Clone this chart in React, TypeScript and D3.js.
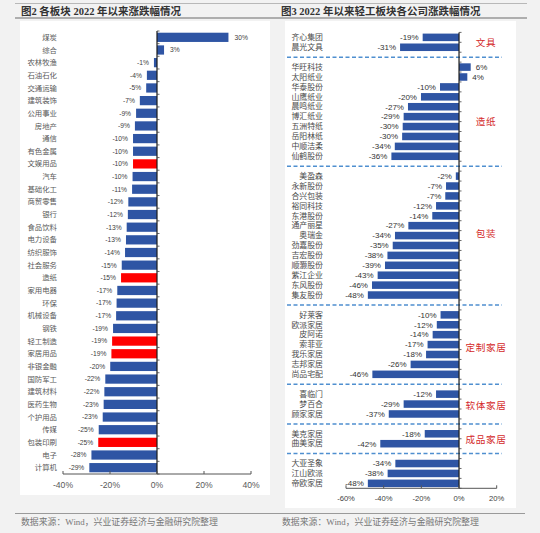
import React from "react";
import * as d3 from "d3";

const leftCategories = [
  "煤炭", "综合", "农林牧渔", "石油石化", "交通运输", "建筑装饰", "公用事业", "房地产",
  "通信", "有色金属", "文娱用品", "汽车", "基础化工", "商贸零售", "银行", "食品饮料",
  "电力设备", "纺织服饰", "社会服务", "造纸", "家用电器", "环保", "机械设备", "钢铁",
  "轻工制造", "家居用品", "非银金融", "国防军工", "建筑材料", "医药生物", "个护用品", "传媒",
  "包装印刷", "电子", "计算机",
];
const leftValues = [
  30.4, 3.0, -1.3, -4.3, -4.6, -7.3, -8.9, -9.4,
  -10.2, -10.2, -10.2, -10.4, -10.6, -12.2, -12.4, -12.9,
  -13.2, -13.6, -15.0, -15.3, -16.9, -17.2, -17.4, -18.7,
  -19.1, -19.4, -19.9, -22.0, -22.4, -22.7, -23.1, -24.8,
  -25.0, -27.9, -28.8,
];
const leftLabels = [
  "30%", "3%", "-1%", "-4%", "-5%", "-7%", "-9%", "-9%",
  "-10%", "-10%", "-10%", "-10%", "-11%", "-12%", "-12%", "-13%",
  "-13%", "-14%", "-15%", "-15%", "-17%", "-17%", "-17%", "-19%",
  "-19%", "-19%", "-20%", "-22%", "-22%", "-23%", "-23%", "-25%",
  "-25%", "-28%", "-29%",
];
const leftHighlighted = ["文娱用品", "造纸", "轻工制造", "家居用品", "包装印刷"];
const leftTicks = [-40, -20, 0, 20, 40];

const rightGroups = ["文具", "造纸", "包装", "定制家居", "软体家居", "成品家居", ""];
const rightCompanies = [
  ["齐心集团", "晨光文具"],
  ["华旺科技", "太阳纸业", "华泰股份", "山鹰纸业", "晨鸣纸业", "博汇纸业", "五洲特纸", "岳阳林纸", "中顺洁柔", "仙鹤股份"],
  ["美盈森", "永新股份", "合兴包装", "裕同科技", "东港股份", "通产丽星", "奥瑞金", "劲嘉股份", "吉宏股份", "顺灏股份", "紫江企业", "东风股份", "集友股份"],
  ["好莱客", "欧派家居", "皮阿诺", "索菲亚", "我乐家居", "志邦家居", "尚品宅配"],
  ["喜临门", "梦百合", "顾家家居"],
  ["美克家居", "曲美家居"],
  ["大亚圣象", "江山欧派", "帝欧家居"],
];
const rightValues = [
  [-19.3, -31.3],
  [6.2, 4.4, -10.1, -20.2, -27.1, -29.4, -29.9, -30.2, -34.1, -35.9],
  [-1.7, -6.9, -7.3, -12.2, -14.2, -26.9, -34.0, -35.2, -38.0, -39.3, -43.2, -46.2, -48.4],
  [-9.8, -11.8, -14.0, -16.7, -17.5, -25.7, -46.0],
  [-12.2, -29.4, -37.3],
  [-18.2, -41.8],
  [-33.8, -37.9, -48.4],
];
const rightLabels = [
  ["-19%", "-31%"],
  ["6%", "4%", "-10%", "-20%", "-27%", "-29%", "-30%", "-30%", "-34%", "-36%"],
  ["-2%", "-7%", "-7%", "-12%", "-14%", "-27%", "-34%", "-35%", "-38%", "-39%", "-43%", "-46%", "-48%"],
  ["-10%", "-12%", "-14%", "-17%", "-18%", "-26%", "-46%"],
  ["-12%", "-29%", "-37%"],
  ["-18%", "-42%"],
  ["-34%", "-38%", "-48%"],
];
const rightLabelRows = [0.5, 5.5, 5.8, 3.3, 1.2, 0.6, 1];
const rightTicks = [-60, -40, -20, 0, 20];

const BLUE = "#2f55a4";
const RED = "#ff0000";
const CJK = "'Noto Sans CJK SC', sans-serif";
const SERIF = "'Liberation Serif', 'Noto Sans CJK SC', serif";
const SANS = "'Liberation Sans', Arial, sans-serif";

function pct(v: number) {
  return `${v}%`;
}

export default function App() {
  const xL = d3.scaleLinear().domain([-40, 40]).range([63, 251]);
  const yL = d3.scaleBand<string>().domain(leftCategories).range([31, 474]).paddingInner(0.27).paddingOuter(0.135);

  type Slot = { key: string; name?: string; value?: number; label?: string; sep?: boolean };
  const slots: Slot[] = [];
  rightCompanies.forEach((names, gi) => {
    names.forEach((n, i) => slots.push({ key: n, name: n, value: rightValues[gi][i], label: rightLabels[gi][i] }));
    if (gi < rightCompanies.length - 1) slots.push({ key: `sep${gi}`, sep: true });
  });
  const xR = d3.scaleLinear().domain([-60, 20]).range([346, 496.7]);
  const yR = d3.scaleBand<string>().domain(slots.map((s) => s.key)).range([32.4, 488.3]).paddingInner(0.24).paddingOuter(0.12);

  const l0 = xL(0);
  const r0 = xR(0);
  const lTop = yL.range()[0];
  const lBot = yL.range()[1];
  const rTop = yR.range()[0];
  const rBot = yR.range()[1];

  const lBoundaries = leftCategories.map((_, i) => lTop + i * yL.step()).concat([lBot]);
  const rBoundaries = slots.map((_, i) => rTop + i * yR.step()).concat([rBot]);

  return (
    <svg width={540} height={533} style={{ position: "absolute", left: 0, top: 0 }} xmlns="http://www.w3.org/2000/svg">
      <rect x={0} y={0} width={540} height={533} fill="#f2f2f2" />
      <line x1={15} x2={527} y1={3.5} y2={3.5} stroke="#b8b8b8" strokeWidth={1} />
      <line x1={15} x2={527} y1={18} y2={18} stroke="#6a6a6a" strokeWidth={1} />
      <text x={21} y={15} fontFamily={SERIF} fontSize={10.5} fontWeight={600} fill="#333">
        图2 各板块 2022 年以来涨跌幅情况
      </text>
      <text x={281} y={15} fontFamily={SERIF} fontSize={10.5} fontWeight={600} fill="#333">
        图3 2022 年以来轻工板块各公司涨跌幅情况
      </text>
      <rect x={20} y={21} width={250} height={474} fill="#ffffff" />
      <rect x={285} y={21} width={231} height={487} fill="#ffffff" />

      {/* LEFT CHART */}
      <g>
        {leftCategories.map((c, i) => {
          const v = leftValues[i];
          const y = yL(c)!;
          const h = yL.bandwidth();
          const x0 = Math.min(xL(v), l0);
          const w = Math.abs(xL(v) - l0);
          const fill = leftHighlighted.includes(c) ? RED : BLUE;
          return (
            <g key={c}>
              <rect x={x0} y={y} width={w} height={h} fill={fill} />
              <text x={57} y={y + h / 2} dy="0.35em" textAnchor="end" fontFamily={CJK} fontSize={7.4} fill="#5a5a5a">
                {c}
              </text>
              <text
                x={v >= 0 ? xL(v) + 6 : xL(v) - 5}
                y={y + h / 2}
                dy="0.35em"
                textAnchor={v >= 0 ? "start" : "end"}
                fontFamily={SANS}
                fontSize={6.7}
                fill="#404040"
              >
                {leftLabels[i]}
              </text>
            </g>
          );
        })}
        <line x1={l0} x2={l0} y1={lTop} y2={lBot} stroke="#1a1a1a" strokeWidth={1.2} />
        {lBoundaries.map((b, i) => (
          <line key={i} x1={l0} x2={l0 + 2.5} y1={b} y2={b} stroke="#444" strokeWidth={0.8} />
        ))}
        <line x1={xL(-40)} x2={xL(40)} y1={lBot} y2={lBot} stroke="#555" strokeWidth={1} />
        {leftTicks.map((t) => (
          <g key={t}>
            <line x1={xL(t)} x2={xL(t)} y1={lBot} y2={lBot - 3} stroke="#555" strokeWidth={1} />
            <text x={xL(t)} y={485} dy="0.35em" textAnchor="middle" fontFamily={SANS} fontSize={8.6} fill="#595959">
              {pct(t)}
            </text>
          </g>
        ))}
      </g>

      {/* RIGHT CHART */}
      <g>
        {slots.map((s) => {
          const y = yR(s.key)!;
          const h = yR.bandwidth();
          if (s.sep) {
            const cy = y + h / 2;
            return (
              <line key={s.key} x1={287} x2={502} y1={cy} y2={cy} stroke="#4f8fd0" strokeWidth={1.5} strokeDasharray="4 2.5" />
            );
          }
          const v = s.value!;
          const x0 = Math.min(xR(v), r0);
          const w = Math.abs(xR(v) - r0);
          return (
            <g key={s.key}>
              <rect x={x0} y={y} width={w} height={h} fill={BLUE} />
              <text x={323} y={y + h / 2} dy="0.35em" textAnchor="end" fontFamily={CJK} fontSize={7.9} fill="#4a4a4a">
                {s.name}
              </text>
              <text
                x={v >= 0 ? xR(v) + 5 : xR(v) - 4}
                y={y + h / 2}
                dy="0.35em"
                textAnchor={v >= 0 ? "start" : "end"}
                fontFamily={SANS}
                fontSize={8}
                fill="#333"
              >
                {s.label}
              </text>
            </g>
          );
        })}
        {rightGroups.map((g, gi) => {
          if (!g) return null;
          const first = rightCompanies[gi][0];
          const y = yR(first)! + rightLabelRows[gi] * yR.step() + yR.bandwidth() / 2;
          return (
            <text key={g} x={486} y={y} dy="0.35em" textAnchor="middle" fontFamily={SERIF} fontSize={9.6} letterSpacing={0.6} fill="#d42a2a">
              {g}
            </text>
          );
        })}
        <line x1={r0} x2={r0} y1={rTop} y2={rBot} stroke="#1a1a1a" strokeWidth={1.2} />
        {rBoundaries.map((b, i) => (
          <line key={i} x1={r0} x2={r0 + 2.5} y1={b} y2={b} stroke="#444" strokeWidth={0.8} />
        ))}
        <line x1={xR(-60)} x2={xR(20)} y1={rBot} y2={rBot} stroke="#555" strokeWidth={1} />
        {rightTicks.map((t) => (
          <g key={t}>
            <line x1={xR(t)} x2={xR(t)} y1={rBot} y2={rBot - 3} stroke="#555" strokeWidth={1} />
            <text x={xR(t)} y={498} dy="0.35em" textAnchor="middle" fontFamily={SANS} fontSize={7.6} fill="#404040">
              {pct(t)}
            </text>
          </g>
        ))}
      </g>

      <line x1={15} x2={525} y1={513.5} y2={513.5} stroke="#9a9a9a" strokeWidth={1} />
      <text x={21} y={522} dy="0.35em" fontFamily={SERIF} fontSize={8.9} fill="#777">
        数据来源：Wind，兴业证券经济与金融研究院整理
      </text>
      <text x={282} y={522} dy="0.35em" fontFamily={SERIF} fontSize={8.9} fill="#777">
        数据来源：Wind，兴业证券经济与金融研究院整理
      </text>
    </svg>
  );
}
